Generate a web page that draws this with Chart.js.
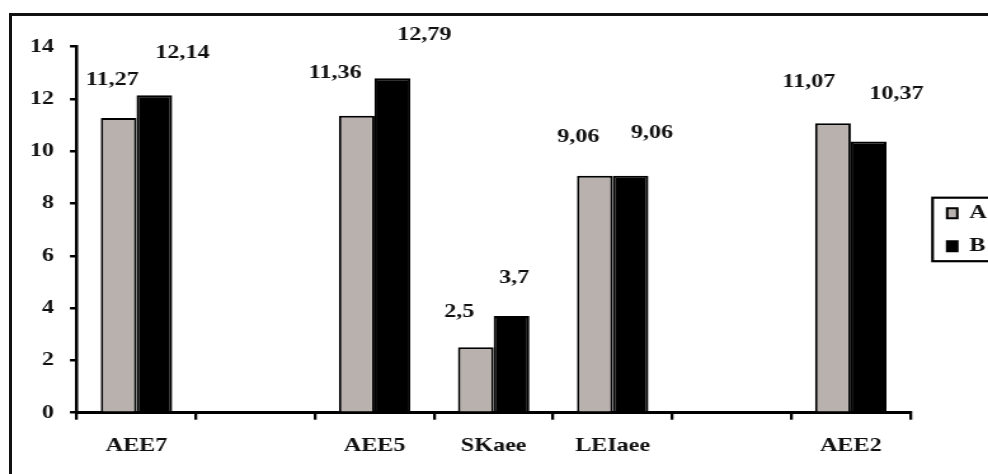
<!DOCTYPE html>
<html>
<head>
<meta charset="utf-8">
<script src="https://cdn.jsdelivr.net/npm/chart.js@4/dist/chart.umd.min.js"></script>
<style>
  html, body { margin: 0; padding: 0; background: #fff; overflow: hidden; width: 988px; height: 474px; }
  #frame { position: absolute; left: 9px; top: 13px; width: 1000px; height: 500px;
           border-top: 3px solid #111; border-left: 3px solid #111; }
  #stretch { position: absolute; left: 0; top: 0; width: 787px; height: 474px;
             transform: scaleX(1.27); transform-origin: 0 0; }
  canvas { display: block; }
</style>
</head>
<body>
<div id="frame"></div>
<div id="stretch"><canvas id="c" width="787" height="474"></canvas></div>
<script>
// Categories (two empty slots keep the original spacing)
const categories = ['AEE7', '', 'AEE5', 'SKaee', 'LEIaee', '', 'AEE2'];
const seriesNames = ['A', 'B'];
const valuesA = [11.27, null, 11.36, 2.5, 9.06, null, 11.07];
const valuesB = [12.14, null, 12.79, 3.7, 9.06, null, 10.37];
const yTicks = [0, 2, 4, 6, 8, 10, 12, 14];

const FONT = { family: '"Liberation Serif", "Times New Roman", serif', size: 19, weight: 'bold' };
const INK = '#111';
const fmt = v => String(v).replace('.', ',');

// Value labels above each bar, nudged per bar
const valueLabels = {
  id: 'valueLabels',
  afterDatasetsDraw(chart, args, opts) {
    const ctx = chart.ctx;
    ctx.save();
    ctx.font = `bold ${FONT.size}px ${FONT.family}`;
    ctx.fillStyle = INK;
    ctx.textAlign = 'center';
    ctx.textBaseline = 'middle';
    chart.data.datasets.forEach((ds, di) => {
      const meta = chart.getDatasetMeta(di);
      const off = opts.offsets[di];
      meta.data.forEach((bar, i) => {
        const v = ds.data[i];
        if (v == null) return;
        ctx.fillText(fmt(v), bar.x + off.dx[i], bar.y + off.dy[i]);
      });
    });
    ctx.restore();
  }
};

// Box drawn around the legend entries
const legendFrame = {
  id: 'legendFrame',
  afterDraw(chart) {
    const lg = chart.legend;
    const hb = lg.legendHitBoxes;
    if (!hb || !hb.length) return;
    const last = hb[hb.length - 1];
    const top = hb[0].top - 6;
    const bottom = last.top + last.height + 5.5;
    const ctx = chart.ctx;
    ctx.save();
    ctx.strokeStyle = '#000';
    ctx.lineWidth = 2.2;
    ctx.strokeRect(lg.left + 2.5, top, 200, bottom - top);
    ctx.restore();
  }
};

function draw() {
  new Chart(document.getElementById('c'), {
    type: 'bar',
    data: {
      labels: categories,
      datasets: [
        { label: seriesNames[0], data: valuesA, backgroundColor: '#b9b1ae',
          borderColor: '#000', borderWidth: 2 },
        { label: seriesNames[1], data: valuesB, backgroundColor: '#000',
          borderColor: '#000', borderWidth: 2 }
      ]
    },
    options: {
      responsive: false,
      animation: false,
      devicePixelRatio: 1,
      categoryPercentage: 0.6,
      barPercentage: 1.0,
      layout: { padding: { left: 10.9, top: 46.7, right: 0, bottom: 1.5 } },
      scales: {
        x: {
          offset: true,
          grid: { display: true, drawOnChartArea: false, drawTicks: true, tickLength: 7,
                  color: '#000', lineWidth: 2.3, offset: true },
          border: { display: true, color: '#000', width: 3 },
          ticks: { color: INK, font: FONT, padding: 15, autoSkip: false, maxRotation: 0 }
        },
        y: {
          min: 0, max: 14,
          afterBuildTicks: s => { s.ticks = yTicks.map(v => ({ value: v })); },
          grid: { display: true, drawOnChartArea: false, drawTicks: true, tickLength: 5.5,
                  color: '#000', lineWidth: 2.5 },
          border: { display: true, color: '#000', width: 2.5 },
          ticks: { color: INK, font: FONT, padding: 12.6 }
        },
        gap: {
          type: 'linear', position: 'right', display: true,
          grid: { display: false }, border: { display: false }, ticks: { display: false },
          afterFit: s => { s.width = 15; }
        }
      },
      plugins: {
        legend: {
          position: 'right',
          fullSize: false,
          labels: { boxWidth: 8, boxHeight: 10, padding: 14, color: INK, font: FONT }
        },
        tooltip: { enabled: false },
        valueLabels: {
          offsets: [
            { dx: [-5, 0, -17, -13, -13, 0, -19], dy: [-38, 0, -43, -35, -39, 0, -41] },
            { dx: [22, 0, 25, 2, 17, 0, 22],      dy: [-42, 0, -43, -38, -43, 0, -48] }
          ]
        }
      }
    },
    plugins: [valueLabels, legendFrame]
  });
}

document.fonts.load('bold 19px "Liberation Serif"').then(draw, draw);
</script>
</body>
</html>
